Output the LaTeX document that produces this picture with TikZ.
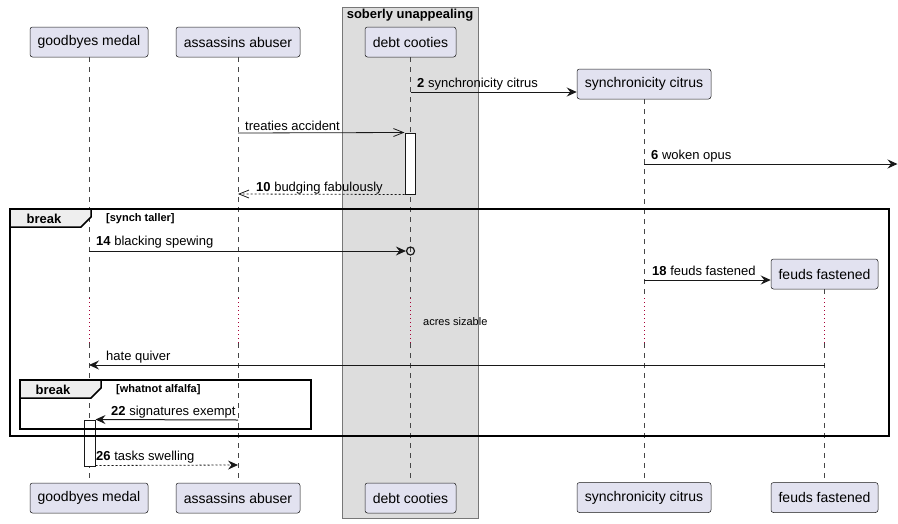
\documentclass[tikz,border=0pt]{standalone}
\usepackage{fontspec}
\setmainfont{Liberation Sans}
\usetikzlibrary{arrows.meta}
\definecolor{partfill}{HTML}{E2E2F0}
\definecolor{partline}{HTML}{181818}
\definecolor{boxfill}{HTML}{DDDDDD}
\definecolor{boxline}{HTML}{777777}
\definecolor{tabfill}{HTML}{EEEEEE}
\definecolor{delayred}{HTML}{A80036}
\begin{document}
\begin{tikzpicture}[x=1pt,y=-1pt,
  part/.style={draw=partline, fill=partfill, line width=0.5pt, rounded corners=2.5pt,
    minimum height=30pt, inner sep=0pt, font=\fontsize{14}{16}\selectfont},
  lifeline/.style={draw=partline!80, line width=0.5pt, dash pattern=on 5pt off 5pt},
  delayline/.style={draw=delayred, line width=0.8pt, dash pattern=on 1pt off 3pt},
  msg/.style={draw=partline, line width=1pt, -{Stealth[length=10pt,width=9pt,inset=3.5pt]}},
  openmsg/.style={draw=partline, line width=0.8pt, -{Straight Barb[length=10pt,width=8pt]}},
  retmsg/.style={draw=partline, line width=0.8pt, dash pattern=on 2pt off 2pt},
  lbl/.style={anchor=base west, inner sep=0pt, font=\fontsize{13}{15}\selectfont},
  actbox/.style={draw=partline, fill=white, line width=1pt, inner sep=0pt, minimum width=10pt},
  frameline/.style={draw=black, line width=1.5pt},
  tabtext/.style={font=\bfseries\fontsize{13}{15}\selectfont, inner sep=0pt},
  guard/.style={font=\bfseries\fontsize{11}{13}\selectfont, inner sep=0pt, anchor=west}
]
\useasboundingbox (0,0) rectangle (898,523);

% group box
\draw[fill=boxfill, draw=boxline, line width=0.8pt] (342,7) rectangle (478,518);
\node[tabtext] (boxtitle) at (410,15) {soberly unappealing};

% participants
\node[part, minimum width=118pt] (gmT) at (89,42) {goodbyes medal};
\node[part, minimum width=124pt] (aaT) at (238,42) {assassins abuser};
\node[part, minimum width=91pt] (dcT) at (410.5,42) {debt cooties};
\node[part, minimum width=134pt] (scT) at (644,84) {synchronicity citrus};
\node[part, minimum width=107pt] (ffT) at (824.5,274) {feuds fastened};

\node[part, minimum width=118pt] (gmB) at (89,498) {goodbyes medal};
\node[part, minimum width=124pt] (aaB) at (238,498) {assassins abuser};
\node[part, minimum width=91pt] (dcB) at (410.5,498) {debt cooties};
\node[part, minimum width=134pt] (scB) at (644,497.5) {synchronicity citrus};
\node[part, minimum width=107pt] (ffB) at (824.5,497.5) {feuds fastened};

% lifelines with delay
\foreach \p/\x in {gm/89, aa/238, dc/410.5, sc/644, ff/824.5}{
  \draw[lifeline] (\p T.south) -- (\x,298);
  \draw[delayline] (\x,298) -- (\x,343);
  \draw[lifeline] (\x,343) -- (\p B.north);
}
\node[anchor=west, inner sep=0pt, font=\fontsize{11}{13}\selectfont] (delaytxt) at (423,322) {acres sizable};

% activations
\node[actbox, minimum height=61pt] (act1) at (410,163.5) {};
\node[actbox, minimum width=11pt, minimum height=46pt] (act2) at (89.5,443) {};

% message 2
\coordinate (m2s) at (410.5,92);
\draw[msg] (m2s) -- (m2s -| scT.west);
\node[lbl] (l2) at (417,87) {\textbf{2} synchronicity citrus};

% treaties accident
\coordinate (mts) at (238,133);
\draw[openmsg] (mts) -- (act1.north west);
\node[lbl] (lt) at (245,130) {treaties accident};

% message 6
\coordinate (m6s) at (644,164);
\coordinate (m6e) at (897.5,164);
\draw[msg] (m6s) -- (m6e);
\node[lbl] (l6) at (651,159) {\textbf{6} woken opus};

% message 10
\coordinate (m10e) at (238,194);
\draw[retmsg, -{Straight Barb[length=10pt,width=8pt]}] (act1.south west) -- (m10e);
\node[lbl] (l10) at (256,191) {\textbf{10} budging fabulously};

% outer break frame
\draw[frameline] (10,209) rectangle (889,436);
\draw[frameline, fill=tabfill] (10,209) -- (91,209) -- (91,217) -- (81,227) -- (10,227) -- cycle;
\node[tabtext] (brk1) at (44,218.5) {break};
\node[guard] (g1) at (106,219) {[synch taller]};

% message 14
\node[circle, draw=partline, line width=1.2pt, minimum size=8pt, inner sep=0pt] (c14) at (410.5,251) {};
\coordinate (m14s) at (89,251);
\draw[msg] (m14s) -- (c14.west);
\node[lbl] (l14) at (96,245.5) {\textbf{14} blacking spewing};

% message 18
\coordinate (m18s) at (644,280);
\draw[msg] (m18s) -- (m18s -| ffT.west);
\node[lbl] (l18) at (652,275) {\textbf{18} feuds fastened};

% hate quiver
\coordinate (mhs) at (824.5,365);
\coordinate (mhe) at (89,365);
\draw[msg] (mhs) -- (mhe);
\node[lbl] (lh) at (106,360) {hate quiver};

% inner break frame
\draw[frameline] (20,380) rectangle (311,429);
\draw[frameline, fill=tabfill] (20,380) -- (101,380) -- (101,388) -- (91,398) -- (20,398) -- cycle;
\node[tabtext] (brk2) at (53,389.5) {break};
\node[guard] (g2) at (116,390) {[whatnot alfalfa]};

% message 22
\coordinate (m22s) at (238,420);
\draw[msg] (m22s) -- (act2.north east);
\node[lbl] (l22) at (111,415) {\textbf{22} signatures exempt};

% message 26
\coordinate (m26e) at (238,465);
\draw[retmsg, -{Stealth[length=10pt,width=9pt,inset=3.5pt]}] (act2.south east) ++(0,-1) -- (m26e);
\node[lbl] (l26) at (96,460) {\textbf{26} tasks swelling};

\end{tikzpicture}
\end{document}
